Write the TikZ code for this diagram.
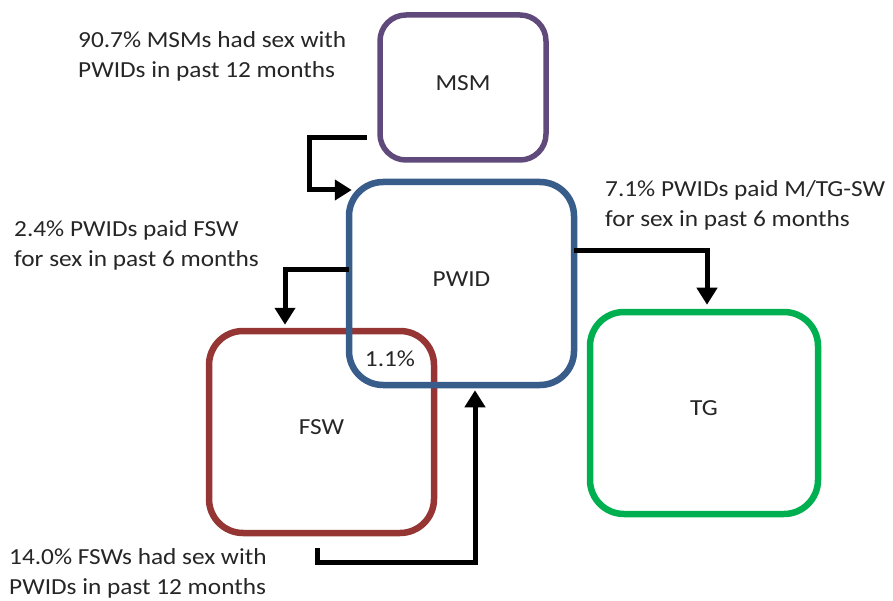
\documentclass[tikz,border=0pt]{standalone}
\usepackage{fontspec}
\setmainfont{Carlito}[FakeStretch=1.1]
\usetikzlibrary{arrows.meta}
\definecolor{msmc}{HTML}{604A7B}
\definecolor{pwidc}{HTML}{385D8A}
\definecolor{fswc}{HTML}{963634}
\definecolor{tgc}{HTML}{00B050}
\definecolor{txt}{HTML}{262626}
\begin{document}
\begin{tikzpicture}[x=1pt,y=-1pt,
  grp/.style={draw, line width=6.5pt, rounded corners=34pt, inner sep=0pt,
    text depth=9pt, text=txt, font=\fontsize{23}{30}\selectfont},
  lbl/.style={anchor=base west, align=left, inner sep=0pt, text=txt,
    font=\fontsize{23}{30}\selectfont},
  arr/.style={line width=5pt, line join=miter, line cap=butt,
    -{Triangle[width=20pt,length=17pt]}}]
\useasboundingbox (0,0) rectangle (893,601);
\fill[white] (0,0) rectangle (893,601);
% groups
\node[grp, draw=fswc, minimum width=225pt, minimum height=202pt] (fsw) at (321.5,432) {FSW};
\node[grp, draw=tgc, minimum width=228pt, minimum height=202pt] (tg) at (704,413) {TG};
\node[grp, draw=pwidc, minimum width=225pt, minimum height=203pt] (pwid) at (461.5,283.5) {PWID};
\node[grp, draw=msmc, line width=5.5pt, rounded corners=26pt, minimum width=166pt, minimum height=145pt] (msm) at (463,87.5) {MSM};
\node[inner sep=0pt, text=txt, font=\fontsize{23}{30}\selectfont] (ov) at (390,359) {1.1\%};
% labels (base = baseline of the last line)
\node[lbl] (l1) at (78,78) {90.7\% MSMs had sex with\\PWIDs in past 12 months};
\node[lbl] (l2) at (14,267) {2.4\% PWIDs paid FSW\\for sex in past 6 months};
\node[lbl] (l3) at (605,227) {7.1\% PWIDs paid M/TG-SW\\for sex in past 6 months};
\node[lbl] (l4) at (9,594) {14.0\% FSWs had sex with\\PWIDs in past 12 months};
% connectors
\coordinate (a1s) at (367,138);
\coordinate (a1b) at (309,190);
\draw[arr] (a1s) -| (a1b) -- ([xshift=6pt]pwid.west |- a1b);
\coordinate (a2b) at (285,270);
\draw[arr] ([xshift=3pt]pwid.west |- a2b) -- (a2b) -- ([yshift=3pt]a2b |- fsw.north);
\coordinate (a3b) at (707,251);
\draw[arr] ([xshift=-3pt]pwid.east |- a3b) -- (a3b) -- ([yshift=4pt]a3b |- tg.north);
\coordinate (a4s) at (317,548);
\coordinate (a4b) at (475,562);
\draw[arr] (a4s) |- (a4b) -- ([yshift=-2pt]a4b |- pwid.south);
\end{tikzpicture}
\end{document}
